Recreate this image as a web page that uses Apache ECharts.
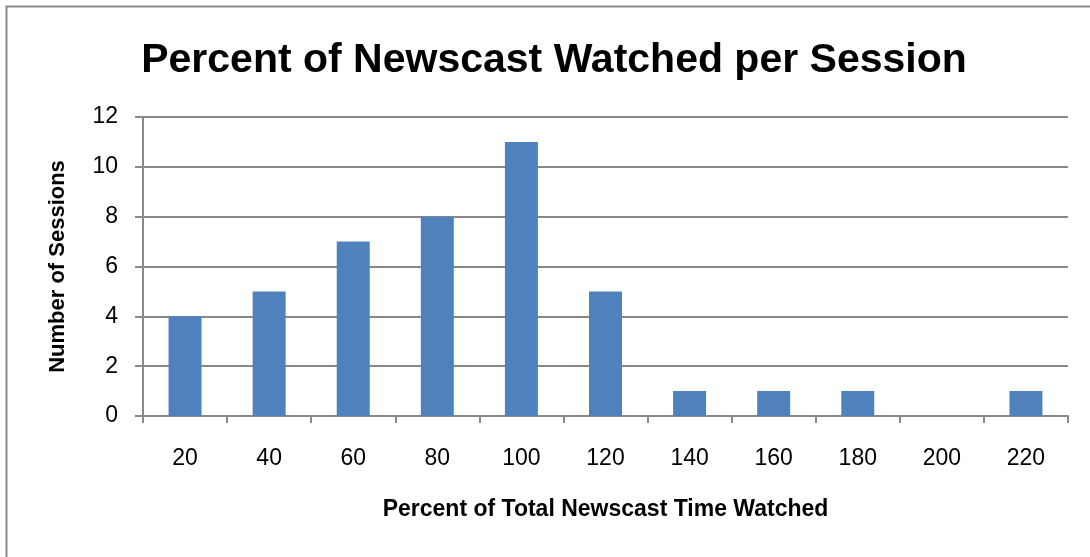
<!DOCTYPE html>
<html>
<head>
<meta charset="utf-8">
<script src="https://cdn.jsdelivr.net/npm/echarts@6/dist/echarts.min.js"></script>
<style>
html,body{margin:0;padding:0;background:#fff;}
#main{width:1090px;height:557px;}
</style>
</head>
<body>
<div id="main"></div>
<script>
const categories = ['20','40','60','80','100','120','140','160','180','200','220'];
const sessions = [4,5,7,8,11,5,1,1,1,0,1];
const yTicks = {min:0, max:12, interval:2};

const FONT = 'Liberation Sans';
const chart = echarts.init(document.getElementById('main'), null, {renderer:'canvas'});
chart.setOption({
  animation:false,
  backgroundColor:'#fff',
  graphic:[{
    type:'rect', left:4, top:4, silent:true,
    shape:{x:0,y:0,width:1200,height:700},
    style:{fill:'none', stroke:'#8a8a8a', lineWidth:2}
  }],
  title:{
    text:'Percent of Newscast Watched per Session',
    left:549, textAlign:'center', top:35,
    textStyle:{fontFamily:FONT, fontWeight:'bold', fontSize:41, color:'#000'}
  },
  grid:{left:143, right:22, top:117, bottom:141, containLabel:false},
  xAxis:{
    type:'category',
    data:categories,
    name:'Percent of Total Newscast Time Watched',
    nameLocation:'middle', nameGap:82,
    nameTextStyle:{fontFamily:FONT, fontWeight:'bold', fontSize:23, color:'#000'},
    axisLine:{lineStyle:{color:'#888', width:2}},
    axisTick:{show:true, length:7, lineStyle:{color:'#888', width:2}},
    axisLabel:{fontFamily:FONT, fontSize:23, color:'#000', margin:31}
  },
  yAxis:{
    type:'value',
    min:yTicks.min, max:yTicks.max, interval:yTicks.interval,
    name:'Number of Sessions',
    nameLocation:'middle', nameGap:74,
    nameTextStyle:{fontFamily:FONT, fontWeight:'bold', fontSize:22, color:'#000'},
    axisLine:{show:true, lineStyle:{color:'#888', width:2}},
    axisTick:{show:true, length:8, lineStyle:{color:'#888', width:2}},
    splitLine:{show:true, lineStyle:{color:'#888', width:2}},
    axisLabel:{fontFamily:FONT, fontSize:23, color:'#000', margin:25}
  },
  series:[{
    type:'bar',
    data:sessions,
    barWidth:33,
    itemStyle:{color:'#4F81BD'}
  }]
});
</script>
</body>
</html>
